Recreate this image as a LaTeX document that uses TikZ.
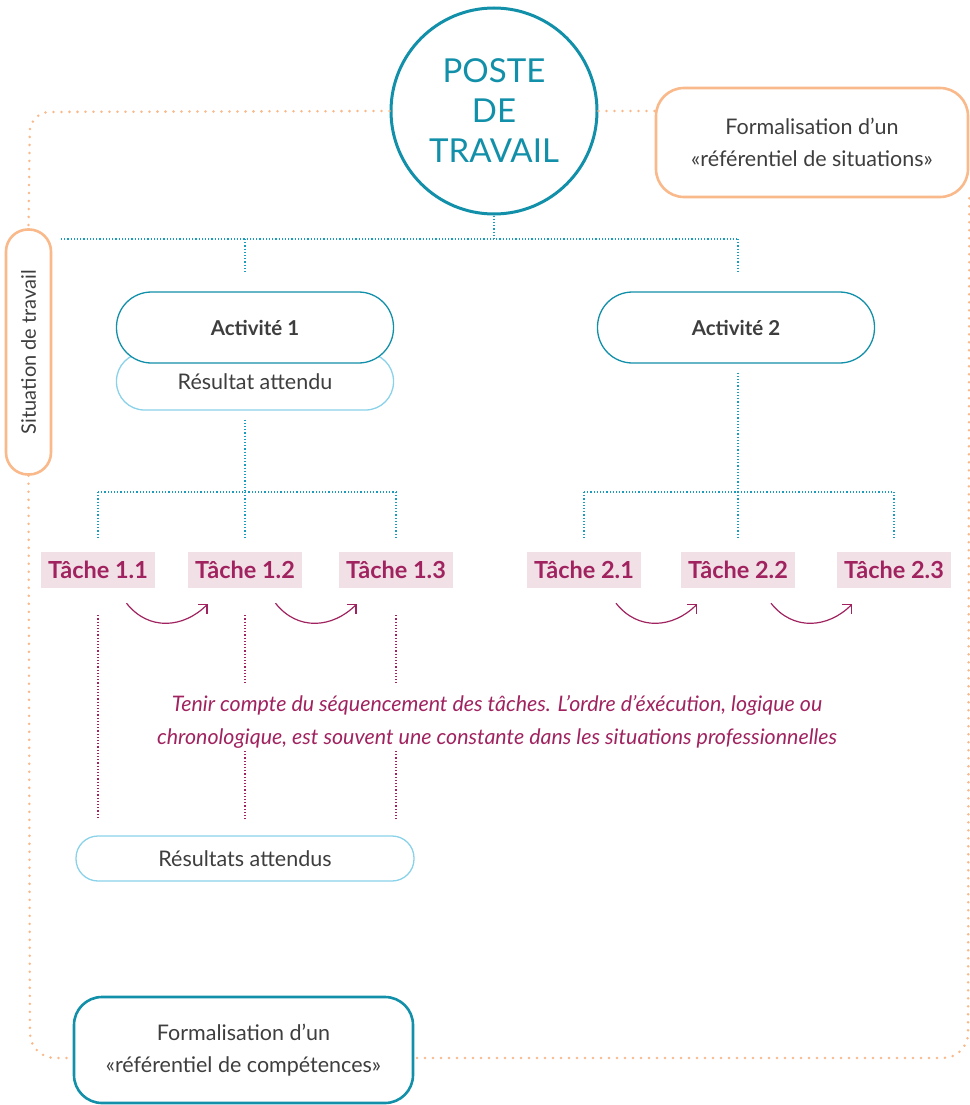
\documentclass[tikz,border=0pt]{standalone}
\usepackage{fontspec}
\setmainfont{Lato}
\usetikzlibrary{calc, positioning, arrows.meta}

\definecolor{posteBlue}{HTML}{1290AA}
\definecolor{resBlue}{HTML}{8AD2EA}
\definecolor{lineBlue}{HTML}{1A9CBE}
\definecolor{frameOrange}{HTML}{F9B98A}
\definecolor{tacheRed}{HTML}{A0235F}
\definecolor{tachePink}{HTML}{F1E1E7}
\definecolor{txtGray}{HTML}{3E3E3E}

\tikzset{
	actbox/.style={draw=posteBlue, line width=1.3pt, fill=white, rounded corners=35pt, minimum width=277pt, minimum height=71pt, text=txtGray, font=\fontsize{20.5}{24}\selectfont\bfseries},
	resbox/.style={draw=resBlue, line width=1.3pt, fill=white, rounded corners=22pt, text=txtGray, font=\fontsize{21.5}{25}\selectfont},
	tachebox/.style={fill=tachePink, text=tacheRed, font=\fontsize{23.5}{27}\selectfont\bfseries, minimum height=36pt, inner xsep=7pt},
	refbox/.style={line width=2.6pt, fill=white, rounded corners=28pt, align=center, text=txtGray, font=\fontsize{21.5}{32}\selectfont},
	bluedots/.style={draw=lineBlue, line width=1.2pt, dash pattern=on 1.2pt off 2pt},
	pinkdots/.style={draw=tacheRed, line width=1.2pt, dash pattern=on 1.2pt off 2pt},
	framedots/.style={draw=frameOrange, line width=2.8pt, dash pattern=on 0pt off 8pt, line cap=round},
	seqarrow/.style={draw=tacheRed, line width=1.2pt, -{Straight Barb[angle=90:9pt]}}
}

\begin{document}
\begin{tikzpicture}[x=1pt, y=-1pt]
	\useasboundingbox (0,0) rectangle (969,1105);

	\newcommand{\seqArrow}[2]
	{
		\coordinate (mid) at ($(#1.south)!0.5!(#2.south)$);
		\draw[seqarrow] ([xshift=-45pt,yshift=-15pt]mid) .. controls +(22,28) and +(-24,24) .. ([xshift=36pt,yshift=-16pt]mid);
	}

	% poste et referentiels
	\node[circle, draw=posteBlue, line width=3pt, fill=white, minimum size=206pt, align=center, text=posteBlue, font=\fontsize{33}{40}\selectfont] (poste) at (494,111) {POSTE\\DE\\TRAVAIL};
	\node[refbox, draw=frameOrange, minimum width=312pt, minimum height=109pt] (refsit) at (812,142.5) {Formalisation d’un\\«référentiel de situations»};
	\node[refbox, draw=posteBlue, minimum width=339pt, minimum height=106pt] (refcomp) at (243.5,1050) {Formalisation d’un\\«référentiel de compétences»};
	\node[draw=frameOrange, line width=2.6pt, rounded corners=22pt, fill=white, rotate=90, minimum width=245pt, minimum height=45pt, text=txtGray, font=\fontsize{20}{24}\selectfont] (situation) at (28.5,352) {Situation de travail};

	% cadre en pointilles
	\coordinate (frameSW) at (30,1058);
	\coordinate (frameSE) at (968,1058);
	\draw[framedots, rounded corners=20pt] (poste.west) -- (30,112) -- (situation.east);
	\draw[framedots, rounded corners=25pt] (situation.west) -- (frameSW) -- (refcomp.west |- frameSW);
	\draw[framedots, rounded corners=25pt] (refsit.south east) -- (frameSE) -- (refcomp.east |- frameSE);
	\draw[framedots] (poste.east) -- (poste.east -| refsit.west);

	% activites
	\node[resbox, minimum width=277pt, minimum height=57pt, rounded corners=28pt] (res1) at (255,381.5) {Résultat attendu};
	\node[actbox] (act1) at (255,327.5) {Activité 1};
	\node[actbox] (act2) at (736,327.5) {Activité 2};

	% taches
	\node[tachebox] (t11) at (98,570) {Tâche 1.1};
	\node[tachebox] (t12) at (245,570) {Tâche 1.2};
	\node[tachebox] (t13) at (396,570) {Tâche 1.3};
	\node[tachebox] (t21) at (584,570) {Tâche 2.1};
	\node[tachebox] (t22) at (738,570) {Tâche 2.2};
	\node[tachebox] (t23) at (894,570) {Tâche 2.3};

	\node[resbox, minimum width=338pt, minimum height=45pt] (results) at (245,858.5) {Résultats attendus};

	% arborescence
	\coordinate (lvlA) at (61,239);
	\coordinate (lvlB) at (0,492);
	\draw[bluedots] (poste.south) -- (poste.south |- lvlA);
	\draw[bluedots] (lvlA) -- (lvlA -| t22);
	\draw[bluedots] (lvlA -| t12) -- ++(0,33);
	\draw[bluedots] (lvlA -| t22) -- ++(0,33);
	\draw[bluedots] ([yshift=-9pt]res1.south -| t12) -- (t12 |- lvlB);
	\draw[bluedots] ([yshift=-9pt]act2.south -| t22) -- (t22 |- lvlB);
	\draw[bluedots] (t11 |- lvlB) -- (t13 |- lvlB);
	\draw[bluedots] (t21 |- lvlB) -- (t23 |- lvlB);
	\foreach \t in {t11,t12,t13,t21,t22,t23}
		\draw[bluedots] (\t |- lvlB) -- ([yshift=13pt]\t.north);

	% sequencement
	\seqArrow{t11}{t12}
	\seqArrow{t12}{t13}
	\seqArrow{t21}{t22}
	\seqArrow{t22}{t23}

	\node[align=center, text=tacheRed, font=\fontsize{21.4}{33}\selectfont\itshape] (seqnote) at (497,722) {Tenir compte du séquencement des tâches. L’ordre d’éxécution, logique ou\\chronologique, est souvent une constante dans les situations professionnelles};

	\draw[pinkdots] ([yshift=-27pt]t11.south) -- ([yshift=16pt]results.north -| t11);
	\foreach \t in {t12,t13}
	{
		\draw[pinkdots] ([yshift=-27pt]\t.south) -- ++(0,68);
		\draw[pinkdots] ([yshift=16pt]results.north -| \t) -- ++(0,-68);
	}
\end{tikzpicture}
\end{document}
